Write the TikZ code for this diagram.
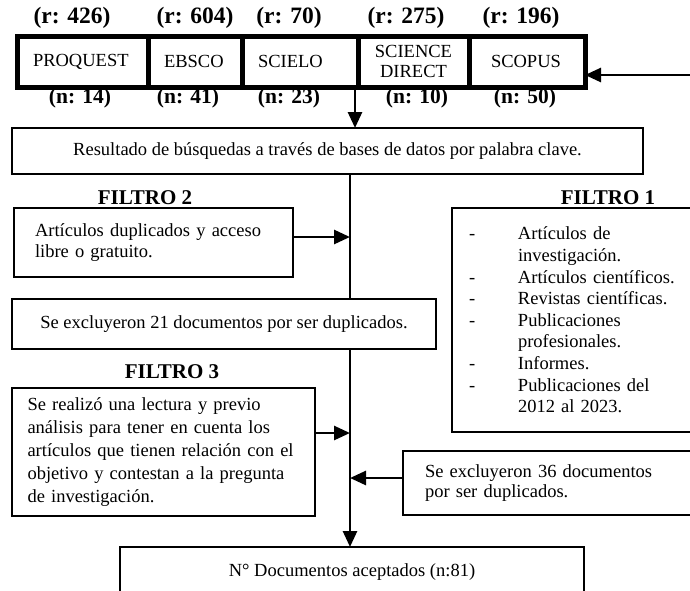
\documentclass[tikz,border=0pt]{standalone}
\usepackage{fontspec}
\setmainfont{Liberation Serif}
\usetikzlibrary{arrows.meta}
\newcommand{\normaltam}{\fontsize{18.5}{21.5}\selectfont}
\newcommand{\etiqr}{\fontsize{23.5}{25}\selectfont\bfseries}
\newcommand{\etiqn}{\fontsize{21.5}{24}\selectfont\bfseries}
\newcommand{\guion}{\makebox[49pt][l]{-}}
\newcommand{\sangria}{\hspace*{49pt}}
\tikzset{
	celda/.style={draw, line width=5pt, anchor=north west, outer sep=0pt, inner xsep=16pt, minimum height=51pt, align=left, font=\normaltam},
	caja/.style={draw, fill=white, line width=2.8pt, anchor=north west, outer sep=0pt, font=\normaltam},
	etiquetar/.style={font=\etiqr, inner sep=0pt},
	etiquetan/.style={font=\etiqn, inner sep=0pt},
	titulo/.style={font=\fontsize{21}{23}\selectfont\bfseries, inner sep=0pt},
	flecha/.style={line width=2.7pt, -{Triangle[length=16pt,width=14pt]}},
	linea/.style={line width=2.7pt}
}

\begin{document}
\begin{tikzpicture}[x=1pt, y=-1pt]
			%%%%% START %%%%%
			\useasboundingbox (0,0) rectangle (690,590);
			\clip (0,0) rectangle (690,590);
			
			\node[etiquetar] (r1) at (72,18) {(r: 426)};
			\node[etiquetar] (r2) at (195,18) {(r: 604)};
			\node[etiquetar] (r3) at (289,18) {(r: 70)};
			\node[etiquetar] (r4) at (406,18) {(r: 275)};
			\node[etiquetar] (r5) at (521,18) {(r: 196)};
			
			\node[celda, text width=99pt] (proquest) at (17,36) {PROQUEST};
			\node[celda, text width=62pt] (ebsco) at (148,36) {EBSCO};
			\node[celda, text width=84pt] (scielo) at (242,36) {SCIELO};
			\node[celda, text width=79pt, align=center, font=\fontsize{18.5}{20}\selectfont] (sciencedirect) at (358,36) {SCIENCE\\DIRECT};
			\node[celda, inner xsep=22pt, text width=72pt] (scopus) at (469,36) {SCOPUS};
			
			\node[etiquetan] (n1) at (80,98) {(n: 14)};
			\node[etiquetan] (n2) at (188,98) {(n: 41)};
			\node[etiquetan] (n3) at (289,98) {(n: 23)};
			\node[etiquetan] (n4) at (417,98) {(n: 10)};
			\node[etiquetan] (n5) at (525,98) {(n: 50)};
			
			\node[caja, minimum width=631pt, minimum height=46pt] (resultado) at (12,128) {Resultado de búsquedas a través de bases de datos por palabra clave.};
			
			\node[titulo] (tfiltro2) at (145,198) {FILTRO 2};
			\node[caja, inner xsep=21pt, text width=237pt, minimum height=69pt, align=left] (filtro2) at (14,208) {\makebox[237pt][s]{Artículos duplicados y acceso}\\libre o gratuito.};
			
			\node[titulo] (tfiltro1) at (608,198) {FILTRO 1};
			\node[caja, inner xsep=17pt, text width=216pt, minimum height=224pt, align=left, font=\fontsize{18.5}{21.6}\selectfont] (filtro1) at (452,208) {\guion Artículos de\\\sangria investigación.\\\guion Artículos científicos.\\\guion Revistas científicas.\\\guion Publicaciones\\\sangria profesionales.\\\guion Informes.\\\guion Publicaciones del\\\sangria 2012 al 2023.};
			
			\node[caja, minimum width=424pt, minimum height=50pt] (excl21) at (12,299) {Se excluyeron 21 documentos por ser duplicados.};
			
			\node[titulo] (tfiltro3) at (172,372) {FILTRO 3};
			\node[caja, inner xsep=15.5pt, text width=272pt, minimum height=128pt, align=left, font=\fontsize{18.5}{23}\selectfont] (filtro3) at (12,388) {\makebox[272pt][s]{Se realizó una lectura y previo}\\\makebox[272pt][s]{análisis para tener en cuenta los}\\\makebox[272pt][s]{artículos que tienen relación con el}\\\makebox[272pt][s]{objetivo y contestan a la pregunta}\\de investigación.};
			
			\node[caja, inner xsep=22pt, text width=256pt, minimum height=64pt, align=left, font=\fontsize{18.5}{20}\selectfont] (excl36) at (403,451) {Se excluyeron 36 documentos\\por ser duplicados.};
			
			\node[caja, minimum width=464pt, minimum height=50pt] (aceptados) at (120,547) {N° Documentos aceptados (n:81)};
			
			% conectores
			\coordinate (tronco) at (350,0);
			\coordinate (entrada) at (700,75);
			\draw[flecha] (entrada) -- (entrada -| scopus.east);
			\draw[flecha] ([xshift=-3pt]scielo.south east) -- ([xshift=-3pt]scielo.south east |- resultado.north);
			\draw[linea] (resultado.south -| tronco) -- (excl21.north -| tronco);
			\draw[flecha] (excl21.south -| tronco) -- (aceptados.north -| tronco);
			\draw[flecha] ([yshift=5.5pt]filtro2.east) -- ([yshift=5.5pt]filtro2.east -| tronco);
			\draw[flecha] ([yshift=19pt]filtro3.east) -- ([yshift=19pt]filtro3.east -| tronco);
			\draw[flecha] ([yshift=5pt]excl36.west) -- ([yshift=5pt]excl36.west -| tronco);
			
			%%%%% END %%%%%
\end{tikzpicture}
\end{document}
